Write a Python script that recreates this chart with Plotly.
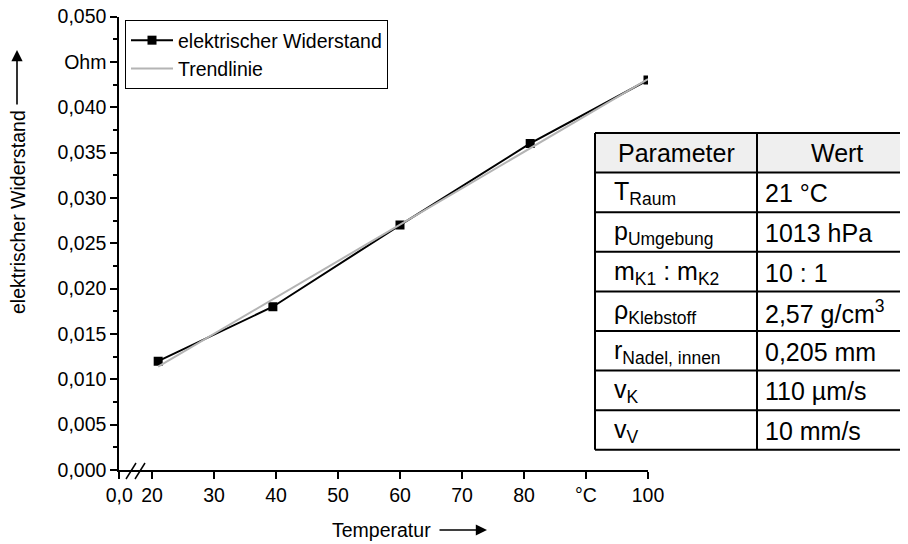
import plotly.graph_objects as go

# ---------------- data ----------------
temperature = [21, 39.5, 60, 81, 100]
resistance = [0.012, 0.018, 0.027, 0.036, 0.043]
trend_temperature = [21, 100]
trend_resistance = [0.0114, 0.0431]

x_tickvals = [14.73, 20, 30, 40, 50, 60, 70, 80, 90, 100]
x_ticktext = ["0,0", "20", "30", "40", "50", "60", "70", "80", "°C", "100"]
y_tickvals = [0.000, 0.005, 0.010, 0.015, 0.020, 0.025, 0.030, 0.035, 0.040, 0.045, 0.050]
y_ticktext = ["0,000", "0,005", "0,010", "0,015", "0,020", "0,025", "0,030",
              "0,035", "0,040", "Ohm", "0,050"]

table_header = ["Parameter", "Wert"]
table_params = ["T<sub>Raum</sub>", "p<sub>Umgebung</sub>", "m<sub>K1</sub> : m<sub>K2</sub>",
                "ρ<sub>Klebstoff</sub>", "r<sub>Nadel, innen</sub>", "v<sub>K</sub>", "v<sub>V</sub>"]
table_values = ["21 °C", "1013 hPa", "10 : 1", "2,57 g/cm<sup>3</sup>", "0,205 mm",
                "110 µm/s", "10 mm/s"]

# ---------------- layout helpers ----------------
# the page body has an 8 px margin, so the figure starts at (8, 8) in the window
OFF = 8
W, H = 900, 536
FONT = "Liberation Sans, Arial, sans-serif"


def px(x):
    return (x - OFF) / W


def py(y):
    return 1 - (y - OFF) / H


fig = go.Figure()

fig.add_trace(go.Scatter(
    x=temperature, y=resistance, mode="lines+markers",
    name="elektrischer Widerstand",
    line=dict(color="black", width=2),
    marker=dict(symbol="square", size=9, color="black"),
))
fig.add_trace(go.Scatter(
    x=trend_temperature, y=trend_resistance, mode="lines",
    name="Trendlinie",
    line=dict(color="#b4b4b4", width=2),
))

fig.update_layout(
    width=W, height=H,
    margin=dict(l=0, r=0, t=0, b=0, pad=0, autoexpand=False),
    paper_bgcolor="white", plot_bgcolor="white",
    font=dict(family=FONT, size=19.5, color="black"),
    showlegend=True,
    legend=dict(
        x=px(125), y=py(20), xanchor="left", yanchor="top",
        bordercolor="black", borderwidth=1, bgcolor="white",
        font=dict(size=19.5), itemwidth=42, tracegroupgap=0,
    ),
    xaxis=dict(
        domain=[px(119.3), px(648)], range=[14.73, 100],
        tickvals=x_tickvals, ticktext=x_ticktext, automargin=False,
        ticklabeloverflow="allow",
        showline=True, linecolor="black", linewidth=2,
        ticks="outside", ticklen=7, tickwidth=2, tickcolor="black",
        showgrid=False, zeroline=False, fixedrange=True,
    ),
    yaxis=dict(
        domain=[py(470), py(16.5)], range=[0, 0.050],
        tickvals=y_tickvals, ticktext=y_ticktext, automargin=False,
        ticklabeloverflow="allow",
        showline=True, linecolor="black", linewidth=2,
        ticks="outside", ticklen=7, tickwidth=2, tickcolor="black",
        minor=dict(dtick=0.0025, tick0=0, ticks="outside", ticklen=4,
                   tickwidth=1.5, tickcolor="black", showgrid=False),
        showgrid=False, zeroline=False, fixedrange=True,
    ),
)

shapes = []
annotations = []

# axis break marks on the x axis
for x0, x1 in [(126, 136), (135, 145)]:
    shapes.append(dict(type="line", xref="paper", yref="paper",
                       x0=px(x0), y0=py(479), x1=px(x1), y1=py(463),
                       line=dict(color="black", width=1.5)))

# axis titles with arrows
annotations.append(dict(text="elektrischer Widerstand", xref="paper", yref="paper",
                        x=px(18), y=py(212), textangle=-90, showarrow=False,
                        font=dict(size=19.5), xanchor="center", yanchor="middle",
                        borderpad=0))
annotations.append(dict(text="", xref="paper", yref="paper", x=px(17), y=py(50),
                        ax=0, ay=56, showarrow=True,
                        arrowhead=2, arrowsize=1.4, arrowwidth=1.6, arrowcolor="black",
                        standoff=0, startstandoff=0))
annotations.append(dict(text="Temperatur", xref="paper", yref="paper",
                        x=px(381), y=py(530), showarrow=False,
                        font=dict(size=19.5), xanchor="center", yanchor="middle"))
annotations.append(dict(text="", xref="paper", yref="paper", x=px(487), y=py(530),
                        ax=-49, ay=0, showarrow=True,
                        arrowhead=2, arrowsize=1.4, arrowwidth=1.6, arrowcolor="black",
                        standoff=0, startstandoff=0))

# parameter table
t_left, t_mid, t_right = 595, 757, 917
t_top, row_h = 133, 39.6
n_rows = len(table_params) + 1
t_bottom = t_top + n_rows * row_h
TF = 25

shapes.append(dict(type="rect", xref="paper", yref="paper",
                   x0=px(t_left), x1=px(t_right + 20), y0=py(t_top), y1=py(t_top + row_h),
                   fillcolor="#efefef", line=dict(width=0), layer="above"))
for i in range(n_rows + 1):
    y = t_top + i * row_h
    shapes.append(dict(type="line", xref="paper", yref="paper",
                       x0=px(t_left), x1=px(t_right + 20), y0=py(y), y1=py(y),
                       line=dict(color="black", width=2)))
for x in (t_left, t_mid):
    shapes.append(dict(type="line", xref="paper", yref="paper",
                       x0=px(x), x1=px(x), y0=py(t_top), y1=py(t_bottom),
                       line=dict(color="black", width=2)))

annotations.append(dict(text=table_header[0], xref="paper", yref="paper",
                        x=px((t_left + t_mid) / 2), y=py(t_top + row_h / 2),
                        showarrow=False, font=dict(size=TF), xanchor="center", yanchor="middle"))
annotations.append(dict(text=table_header[1], xref="paper", yref="paper",
                        x=px((t_mid + t_right) / 2), y=py(t_top + row_h / 2),
                        showarrow=False, font=dict(size=TF), xanchor="center", yanchor="middle"))
for i, (p, v) in enumerate(zip(table_params, table_values)):
    yc = t_top + (i + 1) * row_h + row_h / 2
    annotations.append(dict(text=p, xref="paper", yref="paper", x=px(612), y=py(yc + 1),
                            showarrow=False, font=dict(size=TF), xanchor="left",
                            yanchor="middle"))
    annotations.append(dict(text=v, xref="paper", yref="paper", x=px(763), y=py(yc + 1),
                            showarrow=False, font=dict(size=TF), xanchor="left",
                            yanchor="middle"))

fig.update_layout(shapes=shapes, annotations=annotations)

fig.write_html("out.html")
